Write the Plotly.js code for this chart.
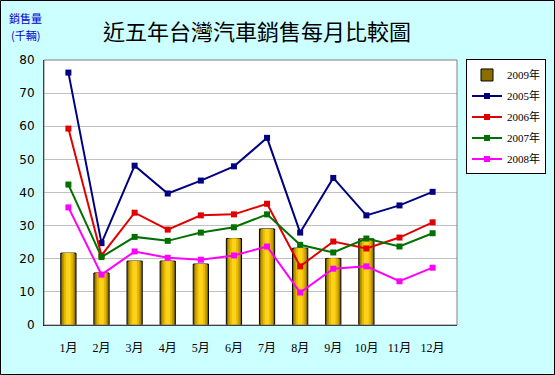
<!DOCTYPE html>
<html><head><meta charset="utf-8">
<script src="https://cdn.plot.ly/plotly-3.0.1.min.js"></script>
<style>body{margin:0;padding:0;}#c{width:555px;height:375px;}</style>
</head><body><div id="c"></div>
<script>
const months = ['1月','2月','3月','4月','5月','6月','7月','8月','9月','10月','11月','12月'];
const months2009 = ['1月','2月','3月','4月','5月','6月','7月','8月','9月','10月'];
const sales2009 = [21.7, 15.7, 19.3, 19.3, 18.4, 26.1, 29.0, 23.2, 20.1, 26.0];
const sales2005 = [76.2, 24.7, 48.1, 39.7, 43.6, 47.9, 56.5, 27.9, 44.4, 33.1, 36.1, 40.2];
const sales2006 = [59.3, 21.0, 33.9, 28.8, 33.1, 33.4, 36.6, 17.7, 25.2, 23.1, 26.4, 31.0];
const sales2007 = [42.4, 20.5, 26.6, 25.4, 27.9, 29.5, 33.4, 24.2, 21.9, 26.1, 23.7, 27.7];
const sales2008 = [35.5, 15.2, 22.2, 20.3, 19.7, 21.0, 23.7, 9.8, 17.0, 17.7, 13.2, 17.3];

const cjk = 'Liberation Serif, Noto Sans CJK TC, serif';
const barLayers = [
  {w:0.46, c:'#8C6E00', line:{color:'#000000', width:1}, legend:true},
  {w:0.36, c:'#C29A00', line:{width:0}, legend:false},
  {w:0.26, c:'#E6BA00', line:{width:0}, legend:false},
  {w:0.14, c:'#FFD21A', line:{width:0}, legend:false}
];
const traces = barLayers.map((b,i) => ({
  type:'bar', x:months2009, y:sales2009, name:'2009年', width:b.w,
  marker:{color:b.c, line:b.line}, showlegend:b.legend, legendgroup:'g2009', hoverinfo:'skip'
}));
const lineDefs = [
  ['2005年', sales2005, '#000080'],
  ['2006年', sales2006, '#E00000'],
  ['2007年', sales2007, '#007000'],
  ['2008年', sales2008, '#FF00FF']
];
lineDefs.forEach(([n, ys, c]) => traces.push({
  type:'scatter', mode:'lines+markers', x:months, y:ys, name:n, legendgroup:n,
  line:{color:c, width:2}, marker:{symbol:'square', size:6, color:c}
}));

const PW = 413, PH = 265;
const layout = {
  width:555, height:375,
  margin:{l:44, r:98, t:60, b:50, autoexpand:false},
  paper_bgcolor:'#CCFFFF', plot_bgcolor:'#FFFFFF',
  barmode:'overlay',
  title:{text:'近五年台灣汽車銷售每月比較圖', x:0.463, xanchor:'center', y:0.915, yanchor:'middle',
         font:{family:'Noto Sans CJK TC', size:22, color:'#000000'}},
  xaxis:{categoryorder:'array', categoryarray:months, showgrid:false, showline:true, linecolor:'#000000', linewidth:1,
         ticks:'', ticklabelstandoff:12, tickfont:{family:cjk, size:12, color:'#000000'}, fixedrange:true},
  yaxis:{range:[0,80], dtick:10, showgrid:true, gridcolor:'#C0C0C0', gridwidth:1, zeroline:false,
         showline:true, linecolor:'#000000', linewidth:1, ticks:'', ticklabelstandoff:6,
         tickfont:{family:'DejaVu Sans, Liberation Sans, sans-serif', size:12, color:'#000000'}},
  legend:{x:1+(466-457)/PW, xanchor:'left', y:1.002, yanchor:'top', bgcolor:'#FFFFFF', bordercolor:'#000000', borderwidth:1,
          font:{family:cjk, size:11, color:'#000000'}, traceorder:'grouped', tracegroupgap:2, itemwidth:30},
  annotations:[
    {text:'銷售量', xref:'paper', yref:'paper', x:(25-44)/PW, y:1+(60-18)/PH, xanchor:'center', yanchor:'middle',
     showarrow:false, font:{family:'Noto Sans CJK TC', size:11, color:'#0000CC'}},
    {text:'(千輛)', xref:'paper', yref:'paper', x:(25-44)/PW, y:1+(60-35)/PH, xanchor:'center', yanchor:'middle',
     showarrow:false, font:{family:'Noto Sans CJK TC', size:11, color:'#0000CC'}}
  ],
  shapes:[
    {type:'rect', xref:'paper', yref:'paper', x0:0, x1:1, y0:0, y1:1, line:{color:'#808080', width:1}},
    {type:'rect', xref:'paper', yref:'paper', x0:-43.5/PW, x1:1+97.5/PW, y0:-49.5/PH, y1:1+59.5/PH, line:{color:'#000000', width:1}}
  ],
  showlegend:true
};
Plotly.newPlot('c', traces, layout, {displayModeBar:false, staticPlot:true});
</script></body></html>
